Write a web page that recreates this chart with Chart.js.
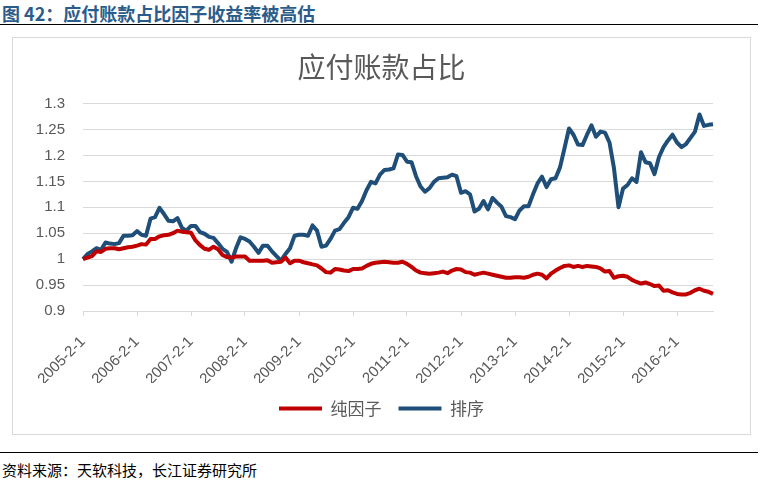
<!DOCTYPE html>
<html>
<head>
<meta charset="utf-8">
<title>应付账款占比</title>
<script src="https://cdn.jsdelivr.net/npm/chart.js@4.4.0/dist/chart.umd.min.js"></script>
<style>
  body { margin:0; background:#fff; width:770px; height:480px; position:relative; overflow:hidden; font-family:"Noto Sans CJK SC", sans-serif; }
  #cabecera { position:absolute; left:2px; top:4px; font-size:18px; line-height:18px; font-weight:bold; color:#2B5C8A; }
  #linea1 { position:absolute; left:0; top:24px; width:758px; border-top:1px solid #000; }
  #caja { position:absolute; left:12px; top:37px; width:737px; height:396px; border:1px solid #d9d9d9; }
  #linea2 { position:absolute; left:0; top:452px; width:758px; border-top:1px solid #000; }
  #fuente { position:absolute; left:2px; top:462px; font-size:15px; line-height:15px; color:#000; }
</style>
</head>
<body>
<div id="cabecera">图 42：应付账款占比因子收益率被高估</div>
<div id="linea1"></div>
<div id="caja"><canvas id="grafico" width="737" height="396"></canvas></div>
<div id="linea2"></div>
<div id="fuente">资料来源：天软科技，长江证券研究所</div>

<script>
// datos (mensual, 2005-2 a 2016-10)
const xTicks = ['2005-2-1', '2006-2-1', '2007-2-1', '2008-2-1', '2009-2-1', '2010-2-1',
  '2011-2-1', '2012-2-1', '2013-2-1', '2014-2-1', '2015-2-1', '2016-2-1']
const yTicks = [0.9, 0.95, 1, 1.05, 1.1, 1.15, 1.2, 1.25, 1.3]

// categorias: primer dia de cada mes
const meses = []
for (let y = 2005; y <= 2016; y++) {
  for (let m = 1; m <= 12; m++) {
    if (y === 2005 && m < 2) continue
    if (y === 2016 && m > 10) continue
    meses.push(y + '-' + m + '-1')
  }
}

const chunYinzi = [1.000,1.003,1.006,1.015,1.014,1.020,1.021,1.021,1.019,1.021,
  1.023,1.024,1.026,1.029,1.028,1.039,1.039,1.044,1.046,1.047,
  1.050,1.055,1.053,1.052,1.051,1.036,1.027,1.020,1.018,1.024,
  1.019,1.008,1.004,1.003,1.005,1.005,1.005,0.997,0.997,0.997,
  0.997,0.998,0.993,0.994,0.995,1.003,0.992,0.997,0.997,0.994,
  0.992,0.990,0.988,0.982,0.975,0.974,0.981,0.980,0.978,0.977,
  0.981,0.981,0.982,0.987,0.991,0.993,0.994,0.995,0.994,0.993,
  0.993,0.995,0.991,0.985,0.978,0.974,0.973,0.972,0.973,0.974,
  0.976,0.973,0.978,0.981,0.980,0.975,0.974,0.970,0.972,0.974,
  0.972,0.970,0.968,0.966,0.964,0.964,0.965,0.965,0.964,0.966,
  0.970,0.972,0.970,0.963,0.972,0.978,0.983,0.987,0.988,0.985,
  0.987,0.985,0.987,0.986,0.985,0.982,0.976,0.977,0.964,0.967,
  0.968,0.966,0.960,0.956,0.953,0.955,0.952,0.948,0.949,0.939,
  0.940,0.936,0.933,0.932,0.932,0.935,0.940,0.943,0.939,0.937,
  0.933]

const paixu = [1.000,1.010,1.015,1.021,1.018,1.032,1.030,1.029,1.031,1.045,
  1.045,1.046,1.054,1.047,1.045,1.078,1.081,1.099,1.087,1.074,
  1.073,1.079,1.060,1.055,1.064,1.064,1.052,1.049,1.043,1.041,
  1.031,1.020,1.014,0.995,1.021,1.042,1.039,1.034,1.024,1.012,
  1.026,1.026,1.015,1.006,0.997,1.010,1.021,1.045,1.047,1.047,
  1.045,1.065,1.055,1.024,1.026,1.039,1.055,1.058,1.070,1.081,
  1.099,1.097,1.112,1.133,1.149,1.146,1.163,1.172,1.173,1.175,
  1.202,1.201,1.188,1.187,1.160,1.140,1.130,1.137,1.149,1.156,
  1.157,1.158,1.163,1.160,1.128,1.131,1.125,1.092,1.097,1.112,
  1.096,1.118,1.109,1.101,1.083,1.081,1.077,1.094,1.102,1.102,
  1.125,1.146,1.159,1.139,1.154,1.156,1.177,1.214,1.252,1.240,
  1.221,1.220,1.240,1.258,1.236,1.246,1.244,1.225,1.175,1.100,
  1.136,1.143,1.156,1.149,1.206,1.187,1.185,1.164,1.197,1.216,
  1.229,1.240,1.225,1.216,1.222,1.234,1.246,1.279,1.257,1.259,
  1.260]

const fuenteNum = "'Liberation Sans', 'Noto Sans CJK SC', sans-serif"
const fuenteCJK = "'Noto Sans CJK SC', sans-serif"
const gris = '#595959'
const rejilla = '#d9d9d9'

const ctx = document.getElementById('grafico').getContext('2d')
const grafico = new Chart(ctx, {
  type: 'line',
  data: {
    labels: meses,
    datasets: [{
      label: '纯因子',
      data: chunYinzi,
      borderColor: '#C00000',
      backgroundColor: '#C00000',
      borderWidth: 4,
      pointRadius: 0,
      tension: 0,
      borderJoinStyle: 'round'
    }, {
      label: '排序',
      data: paixu,
      borderColor: '#1F4E79',
      backgroundColor: '#1F4E79',
      borderWidth: 4,
      pointRadius: 0,
      tension: 0,
      borderJoinStyle: 'round'
    }]
  },
  options: {
    responsive: false,
    animation: false,
    layout: { padding: { left: 0, right: 0, top: 0, bottom: 7 } },
    plugins: {
      title: {
        display: true,
        text: '应付账款占比',
        color: gris,
        font: { size: 28, family: fuenteCJK, weight: 'normal' },
        padding: { top: 13, bottom: 19 }
      },
      legend: {
        position: 'bottom',
        labels: {
          boxWidth: 43,
          boxHeight: 4,
          padding: 17,
          color: gris,
          font: { size: 17, family: fuenteCJK },
          generateLabels: function (chart) {
            return Chart.defaults.plugins.legend.labels.generateLabels(chart).map(l => {
              l.lineWidth = 0
              return l
            })
          }
        }
      },
      tooltip: { enabled: false }
    },
    scales: {
      x: {
        grid: {
          drawOnChartArea: false,
          drawTicks: true,
          tickLength: 5,
          color: c => (c.tick && c.tick.label) ? rejilla : 'rgba(0,0,0,0)',
          tickColor: c => (c.tick && c.tick.label) ? rejilla : 'rgba(0,0,0,0)'
        },
        border: { color: rejilla, width: 1 },
        ticks: {
          autoSkip: false,
          maxRotation: 45,
          minRotation: 45,
          padding: 17,
          color: gris,
          font: { size: 15, family: fuenteNum },
          callback: function (v, i) {
            return xTicks.includes(meses[i]) ? meses[i] : ''
          }
        },
        afterFit: function (s) { s.height = 72 }
      },
      y: {
        min: 0.9,
        max: 1.3,
        afterBuildTicks: function (s) { s.ticks = yTicks.map(v => ({ value: v })) },
        grid: { color: rejilla, drawTicks: false },
        border: { display: false },
        ticks: {
          padding: 18,
          color: gris,
          font: { size: 15, family: fuenteNum },
          callback: v => String(v)
        },
        afterFit: function (s) { s.width = 70 }
      },
      // eje vacio a la derecha, solo para dejar el margen
      yDer: {
        position: 'right',
        display: true,
        grid: { display: false },
        border: { display: false },
        ticks: { display: false },
        afterFit: function (s) { s.width = 37 }
      }
    }
  }
})
</script>
</body>
</html>
